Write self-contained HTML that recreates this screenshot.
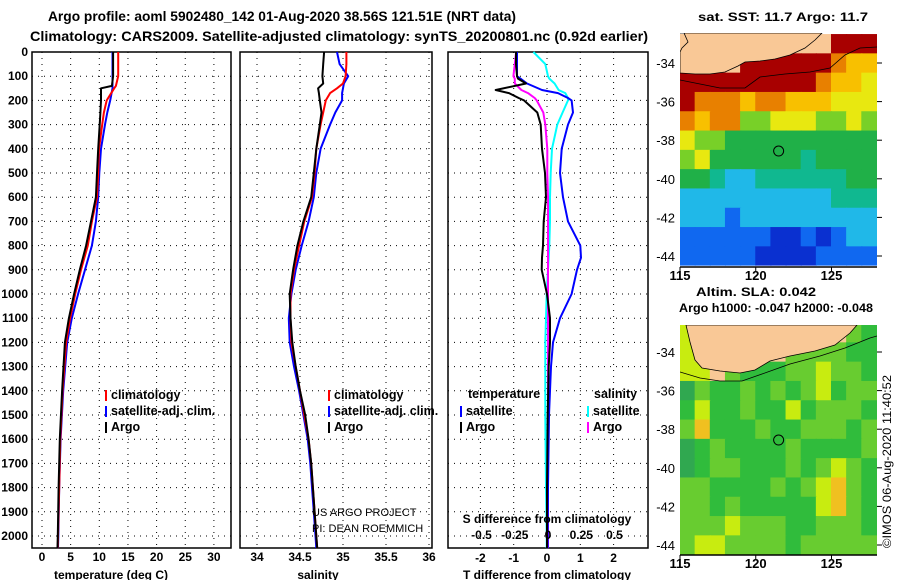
<!DOCTYPE html>
<html><head><meta charset="utf-8">
<style>
html,body{margin:0;padding:0;background:#fff;}
svg{display:block;font-family:"Liberation Sans",sans-serif;font-weight:bold;}
</style></head>
<body>
<svg id="fig" width="900" height="580" viewBox="0 0 900 580" xmlns="http://www.w3.org/2000/svg">
<rect width="900" height="580" fill="#fff"/>
<text x="48" y="21" font-size="14" textLength="468" lengthAdjust="spacingAndGlyphs">Argo profile: aoml 5902480_142 01-Aug-2020 38.56S 121.51E (NRT data)</text>
<text x="30" y="41" font-size="14" textLength="618" lengthAdjust="spacingAndGlyphs">Climatology: CARS2009. Satellite-adjusted climatology: synTS_20200801.nc (0.92d earlier)</text>
<text x="698" y="21" font-size="12" textLength="170" lengthAdjust="spacingAndGlyphs">sat. SST: 11.7 Argo: 11.7</text>
<text x="696" y="296" font-size="12" textLength="120" lengthAdjust="spacingAndGlyphs">Altim. SLA: 0.042</text>
<text x="679" y="312" font-size="12" textLength="194" lengthAdjust="spacingAndGlyphs">Argo h1000: -0.047 h2000: -0.048</text>
<g id="layer"></g>
<text transform="translate(891,548) rotate(-90)" font-size="12" font-weight="normal" textLength="173" lengthAdjust="spacingAndGlyphs">©IMOS 06-Aug-2020 11:40:52</text>
<text x="312" y="516" font-size="11" font-weight="normal">US ARGO PROJECT</text>
<text x="312" y="532" font-size="11" font-weight="normal">PI: DEAN ROEMMICH</text>
</svg>
<script>
// ---- data ----
const depthTicks = [0,100,200,300,400,500,600,700,800,900,1000,1100,1200,1300,1400,1500,1600,1700,1800,1900,2000];
const tTicks = [0,5,10,15,20,25,30];
const sTicks = [34,34.5,35,35.5,36];
const dTTicks = [-2,-1,0,1,2];
const dSTicks = [-0.5,-0.25,0,0.25,0.5];
const dSTickLabels = ["-0.5","-0.25","0","0.25","0.5"];

const depthT = [0,100,140,150,200,250,300,400,500,600,700,800,900,1000,1100,1200,1400,1600,1800,2000,2050];
const tempArgo = [12.4,12.4,12.2,10.3,10.3,10.2,10.07,9.8,9.6,9.4,8.55,7.7,6.6,5.6,4.7,4.0,3.5,3.1,2.9,2.75,2.7];
const tempClim = [13.3,13.3,12.9,12.6,11.3,10.8,10.5,9.95,9.8,9.6,8.7,8.0,6.8,5.8,4.9,4.2,3.6,3.2,3.0,2.8,2.75];
const tempSat  = [12.3,12.3,12.3,12.3,11.9,11.4,11.0,10.3,10.0,9.8,9.4,8.7,7.5,6.3,5.2,4.4,3.7,3.25,3.0,2.85,2.8];

const depthS = [0,50,100,130,150,170,200,250,300,400,500,600,700,800,900,1000,1100,1200,1300,1400,1500,1600,1700,1800,1900,2000,2050];
const salArgo = [34.78,34.77,34.76,34.77,34.71,34.72,34.73,34.75,34.73,34.69,34.66,34.63,34.54,34.47,34.42,34.38,34.39,34.41,34.45,34.5,34.56,34.6,34.63,34.65,34.67,34.69,34.7];
const salClim = [35.04,35.04,35.03,35.0,34.93,34.85,34.8,34.77,34.74,34.69,34.67,34.64,34.55,34.49,34.43,34.39,34.39,34.4,34.45,34.5,34.55,34.6,34.63,34.65,34.67,34.69,34.7];
const salSat  = [34.93,34.96,35.06,35.01,35.0,34.99,34.99,34.91,34.85,34.74,34.69,34.66,34.6,34.52,34.45,34.4,34.37,34.38,34.43,34.49,34.54,34.59,34.62,34.64,34.66,34.68,34.69];

const depthD = [0,50,100,110,130,157,170,190,200,250,300,400,500,600,700,800,850,900,1000,1100,1200,1300,1500,1800,2000,2050];
const dTArgo = [-0.93,-0.93,-0.9,-0.87,-0.63,-1.54,-1.14,-0.85,-0.69,-0.29,-0.19,-0.15,-0.06,-0.03,-0.1,-0.12,-0.15,-0.16,0,0.09,0.09,0.05,0.02,0,0,0];
const dTSat  = [-0.9,-0.9,-0.9,-0.8,-0.6,-0.15,0.33,0.63,0.74,0.78,0.63,0.44,0.39,0.48,0.63,1.0,1.02,0.9,0.74,0.39,0.18,0.12,0.06,0.03,0.02,0.02];
const dSSat  = [-0.11,-0.02,0,0.01,0.05,0.08,0.13,0.15,0.15,0.11,0.07,0.03,0.02,0.015,0.015,0.01,0.005,0,-0.01,-0.015,-0.02,-0.02,-0.02,-0.015,-0.01,-0.01];
const dSArgo = [-0.24,-0.25,-0.26,-0.25,-0.25,-0.2,-0.15,-0.1,-0.085,-0.035,-0.02,-0.005,-0.005,0,0,0,0,0,0,0,0,0,0,0,0,0];

const mapLons = [115,116,117,118,119,120,121,122,123,124,125,126,127];
const mapLats = [-33,-34,-35,-36,-37,-38,-39,-40,-41,-42,-43,-44];
const sstGrid = [
"LLLLLLLLLL999","LLLL999999877","9999999998776","9888788777666","8788556665565",
"6554444444444","5644444434444","4432233333344","2222222222333","2221222222222",
"1111110010122","1111100001111"];
const slaGrid = [
"6LLLLLLLLLL54","6LLLLLL555544","66L5444556554","3544545456455","4644544645554",
"5744454455545","3454444544445","3455444545654","5544445456754","5545444446754",
"5556555445554","5665555455555"];
const argoLon = 121.51, argoLat = -38.56;

// ---- helpers ----
const NS = "http://www.w3.org/2000/svg";
const layer = document.getElementById('layer');
function mk(tag, attrs, parent){ const e=document.createElementNS(NS,tag); for(const k in attrs) e.setAttribute(k,attrs[k]); (parent||layer).appendChild(e); return e; }
const yD = d => 52 + d*0.242;
const PB = 548;
const xT = v => 42 + v*5.73;
const xS = v => 257 + (v-34)*86;
const xDT = v => 547 + v*33.3;
const xDS = v => 548 + v*133;

function panel(x0,x1,name,gridXs){
  const g = mk('g',{});
  
  
  depthTicks.forEach(d=>{ mk('line',{x1:x0,x2:x1,y1:yD(d),y2:yD(d),stroke:'#000','stroke-width':1,'stroke-dasharray':'1 5'},g); });
  gridXs.forEach(x=>{ mk('line',{x1:x,x2:x,y1:52,y2:PB,stroke:'#000','stroke-width':1,'stroke-dasharray':'1 5'},g); });
  const r = mk('rect',{x:x0,y:52,width:x1-x0,height:PB-52,fill:'none',stroke:'#000','stroke-width':1.5},g);
  
  
  return g;
}
function line(depths, vals, xf, color, name, w){
  const pts = depths.map((d,i)=> xf(vals[i]).toFixed(1)+','+yD(d).toFixed(1)).join(' ');
  const p = mk('polyline',{points:pts,fill:'none',stroke:color,'stroke-width':w||2,'stroke-linejoin':'round'});
  
  
}
function txt(x,y,s,opts,name){
  const t = mk('text',Object.assign({x:x,y:y,'font-size':12},opts||{}));
  t.textContent = s;
  
  
  return t;
}

depthTicks.forEach(d=>{ txt(28,yD(d)+4,String(d),{'text-anchor':'end'},'depth-tick-label'); });

// Panel 1
panel(32,231,'temperature-panel',tTicks.map(xT));
line(depthT,tempSat,xT,'#0000ff','temp-satellite-line');
line(depthT,tempClim,xT,'#ff0000','temp-climatology-line');
line(depthT,tempArgo,xT,'#000','temp-argo-line');
tTicks.forEach(v=>txt(xT(v),561,String(v),{'text-anchor':'middle'},'temp-x-tick-label'));
txt(111,579,'temperature (deg C)',{'text-anchor':'middle'},'temp-x-axis-title');

// Panel 2
panel(240,432,'salinity-panel',sTicks.map(xS));
line(depthS,salSat,xS,'#0000ff','sal-satellite-line');
line(depthS,salClim,xS,'#ff0000','sal-climatology-line');
line(depthS,salArgo,xS,'#000','sal-argo-line');
sTicks.forEach(v=>txt(xS(v),561,String(v),{'text-anchor':'middle'},'sal-x-tick-label'));
txt(318,579,'salinity',{'text-anchor':'middle'},'sal-x-axis-title');

// Panel 3
panel(448,648,'difference-panel',dTTicks.map(xDT));
line(depthD,dSSat,xDS,'#00ffff','dS-satellite-line');
line(depthD,dSArgo,xDS,'#ff00ff','dS-argo-line');
line(depthD,dTSat,xDT,'#0000ff','dT-satellite-line');
line(depthD,dTArgo,xDT,'#000','dT-argo-line');
dTTicks.forEach(v=>txt(xDT(v),562,String(v),{'text-anchor':'middle'},'dT-x-tick-label'));
txt(547,579,'T difference from climatology',{'text-anchor':'middle'},'dT-x-axis-title');
txt(547,523,'S difference from climatology',{'text-anchor':'middle'},'dS-axis-title');
dSTicks.forEach((v,i)=>txt(xDS(v),539,dSTickLabels[i],{'text-anchor':'middle'},'dS-tick-label'));

// legends
function legItem(x,y,color,label,name){
  const r = mk('rect',{x:x,y:y-9,width:2,height:11,fill:color});
  
  
  txt(x+6,y,label,{'font-size':12.5},name);
}
legItem(105,399,'#ff0000','climatology','legend-climatology');
legItem(105,415,'#0000ff','satellite-adj. clim.','legend-satellite-adj');
legItem(105,431,'#000','Argo','legend-argo');
legItem(328,399,'#ff0000','climatology','legend-climatology-sal');
legItem(328,415,'#0000ff','satellite-adj. clim.','legend-satellite-adj-sal');
legItem(328,431,'#000','Argo','legend-argo-sal');
txt(468,398,'temperature',{'font-size':12.5},'legend-temperature-heading');
txt(594,398,'salinity',{'font-size':12.5},'legend-salinity-heading');
legItem(460,415,'#0000ff','satellite','legend-t-satellite');
legItem(460,431,'#000','Argo','legend-t-argo');
legItem(587,415,'#00ffff','satellite','legend-s-satellite');
legItem(587,431,'#ff00ff','Argo','legend-s-argo');

// ---- maps ----
const palette = {'L':'#f9c896','0':'#0a30d0','1':'#1068f0','2':'#20b8e8','3':'#10b890','4':'#20b048','5':'#78d028','6':'#e8e810','7':'#f8c000','8':'#e88000','9':'#a80000'};
const slaPalette = {'L':'#f9c896','3':'#30a850','4':'#30bc3c','5':'#68cc30','6':'#c8ec10','7':'#f0c020'};
function drawMap(y0top,yLat34,grid,pal,name,landPts,contourPts){
  const g = mk('g',{});
  
  
  const px = lon => 680 + (lon-115)*15.15;
  const py = lat => yLat34 + (-34-lat)*19.3;
  const clip = mk('clipPath',{id:name+'-clip'},g);
  mk('rect',{x:680,y:y0top,width:197,height:py(-44.5)-y0top},clip);
  const cg = mk('g',{'clip-path':'url(#'+name+'-clip)'},g);
  mapLats.forEach((lat,r)=>{
    mapLons.forEach((lon,c)=>{
      const cell = mk('rect',{x:px(lon)-0.5,y:py(lat+0.5),width:16.2,height:20,fill:pal[grid[r][c]]},cg);
      
      
    });
  });
  mk('polygon',{points:landPts,fill:'#f9c896',stroke:'#000','stroke-width':0.8},cg);
  mk('polyline',{points:contourPts,fill:'none',stroke:'#000','stroke-width':0.8},cg);
  const c = mk('circle',{cx:px(argoLon),cy:py(argoLat),r:5,fill:'none',stroke:'#000','stroke-width':1},g);
  
  
  [-34,-36,-38,-40,-42,-44].forEach(lat=>{
    txt(675,py(lat)+5,String(lat),{'text-anchor':'end','font-weight':'normal','font-size':13},name+'-lat-label');
    mk('line',{x1:877,x2:882,y1:py(lat),y2:py(lat),stroke:'#000'},g);
  });
  return {g,px,py};
}
drawMap(33,63,sstGrid,palette,'sst-map',
 '680,33 684,33 688,42 682,48 680,52 680,73 695,74 710,74 725,72 738,66 745,62 760,61 775,59 790,55 805,48 815,40 822,33',
 '680,80 700,84 720,88 745,88 760,77 785,74 810,72 830,68 845,55 860,48 877,47');
drawMap(325,352,slaGrid,slaPalette,'sla-map',
 '686,325 690,342 695,360 702,368 720,371 740,373 755,370 770,361 790,356 815,351 835,345 850,333 857,325',
 '680,372 700,378 720,381 742,381 762,374 790,364 820,356 845,348 870,338 877,336');
[[267,'sst-map'],[555,'sla-map']].forEach(([yb,nm])=>{
  mk('line',{x1:680,x2:877,y1:yb,y2:yb,stroke:'#000','stroke-width':1.5});
  [115,120,125].forEach(l=>{
    const x = 680+(l-115)*15.15;
    mk('line',{x1:x,x2:x,y1:yb,y2:yb+4,stroke:'#000'});
    txt(x,yb+13,String(l),{'text-anchor':'middle','font-size':13},nm+'-lon-label');
  });
});
</script>
</body></html>
